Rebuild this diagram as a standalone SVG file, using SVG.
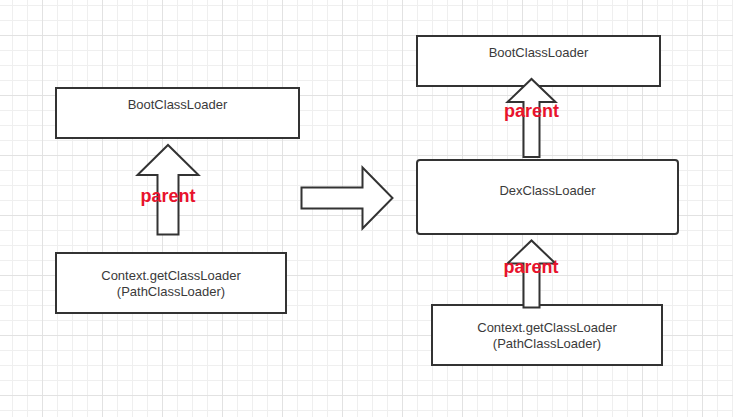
<svg xmlns="http://www.w3.org/2000/svg" width="733" height="417" viewBox="0 0 733 417">
<style>
.box{fill:#fff;stroke:#333;stroke-width:2}
.arr{fill:#fff;stroke:#333;stroke-width:2;stroke-linejoin:miter}
.lbl{font-family:"Liberation Sans",Arial,sans-serif;font-size:13px;fill:#3a3a3a;text-anchor:middle}
.par{font-family:"Liberation Sans",Arial,sans-serif;font-size:18px;font-weight:bold;fill:#e8132d;text-anchor:middle}
</style>
<defs>
<pattern id="g1" patternUnits="userSpaceOnUse" x="12" y="5" width="15" height="15">
<path d="M0.5 0V15M0 0.5H15" stroke="#efefef" stroke-width="1" fill="none"/>
</pattern>
<pattern id="g2" patternUnits="userSpaceOnUse" x="42" y="35" width="60" height="60">
<path d="M0.5 0V60M0 0.5H60" stroke="#e2e2e2" stroke-width="1" fill="none"/>
</pattern>
</defs>
<rect width="733" height="417" fill="#fff"/>
<rect width="733" height="417" fill="url(#g1)"/>
<rect width="733" height="417" fill="url(#g2)"/>

<g id="left-boot">
<rect class="box" x="56" y="88" width="243" height="50"/>
<text class="lbl" x="177.5" y="109">BootClassLoader</text>
</g>
<g id="left-context">
<rect class="box" x="56" y="253" width="230" height="60"/>
<text class="lbl" x="171" y="280">Context.getClassLoader</text>
<text class="lbl" x="171" y="296">(PathClassLoader)</text>
</g>
<g id="right-boot">
<rect class="box" x="417" y="36" width="243" height="50"/>
<text class="lbl" x="538.5" y="57">BootClassLoader</text>
</g>
<g id="right-dex">
<rect class="box" x="417" y="160" width="261" height="74" rx="3"/>
<text class="lbl" x="547.5" y="195">DexClassLoader</text>
</g>
<g id="right-context">
<rect class="box" x="432" y="305" width="230" height="60"/>
<text class="lbl" x="547" y="332">Context.getClassLoader</text>
<text class="lbl" x="547" y="347.5">(PathClassLoader)</text>
</g>

<g id="connectors">
<polygon class="arr" points="157.5,234.5 178.5,234.5 178.5,175 198.5,175 168,145 137.5,175 157.5,175"/>
<text class="par" x="168" y="201.5">parent</text>
<polygon class="arr" points="301.5,187.5 362.5,187.5 362.5,167.5 392.5,198 362.5,228.5 362.5,208.5 301.5,208.5"/>
<polygon class="arr" points="523.5,157 539.5,157 539.5,102 555.5,102 531.5,79 507.5,102 523.5,102"/>
<text class="par" x="531.5" y="117">parent</text>
<polygon class="arr" points="523.5,307.5 539.5,307.5 539.5,263.5 555.5,263.5 531.5,240.5 507.5,263.5 523.5,263.5"/>
<text class="par" x="531" y="273">parent</text>
</g>
</svg>
